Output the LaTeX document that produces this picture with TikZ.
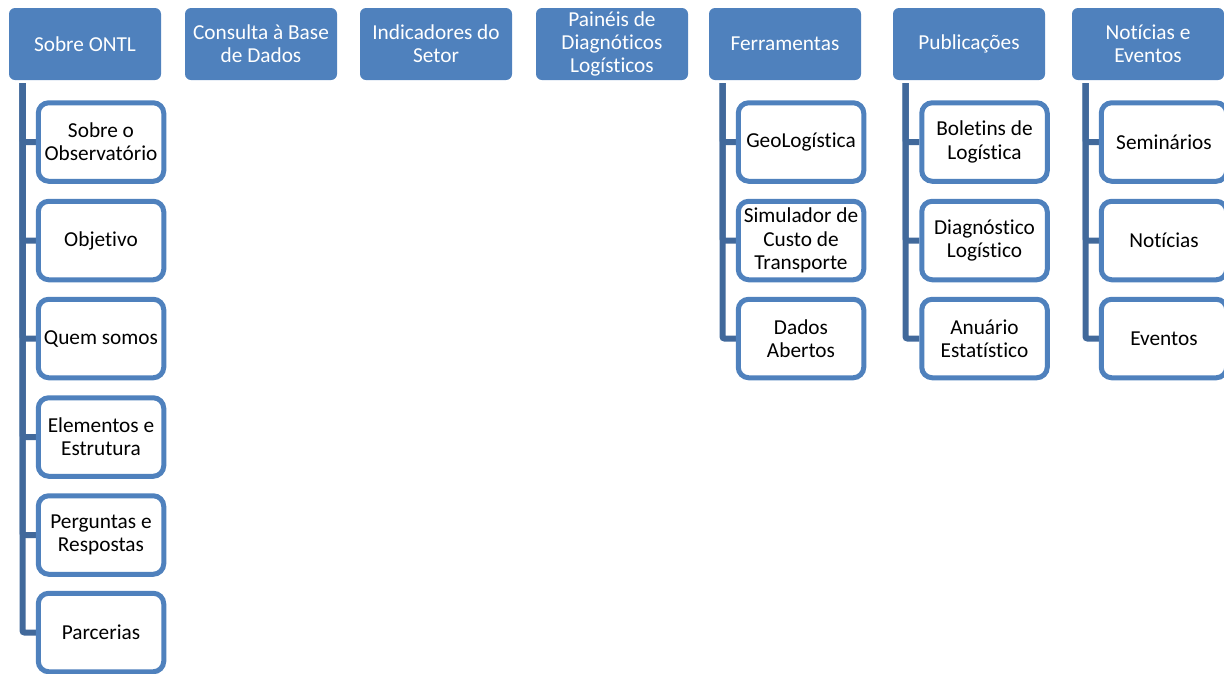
\documentclass[tikz,border=0pt]{standalone}
\usepackage{fontspec}
\setmainfont{Carlito}[Ligatures=NoCommon]
\usetikzlibrary{backgrounds}
\definecolor{hdrblue}{HTML}{4F81BD}
\definecolor{trunkblue}{HTML}{41699B}
\tikzset{
  x=1pt,y=-1pt,
  hdr/.style={fill=hdrblue,draw=none,rounded corners=6pt,minimum width=152pt,minimum height=72pt,inner sep=0pt,text=white,align=center,font=\fontsize{21.3pt}{23.2pt}\selectfont},
  item/.style={fill=white,draw=hdrblue,line width=5pt,rounded corners=10.5pt,minimum width=125.5pt,minimum height=78.5pt,inner sep=0pt,text=black,align=center,font=\fontsize{21.3pt}{23.2pt}\selectfont},
  link/.style={draw=trunkblue,line width=6pt,rounded corners=2pt},
}
\begin{document}
\begin{tikzpicture}
\useasboundingbox (0,0) rectangle (1224,673);
\clip (0,0) rectangle (1224,673);
\node[hdr] (h1) at (85,44) {Sobre ONTL};
\node[hdr] (h2) at (261,44) {Consulta à Base\\de Dados};
\node[hdr] (h3) at (436,44) {Indicadores do\\Setor};
\node[hdr] (h4) at (612,44) {Painéis de\\Diagnóticos\\Logísticos};
\node[hdr] (h5) at (785,44) {Ferramentas};
\node[hdr] (h6) at (969,44) {Publicações};
\node[hdr] (h7) at (1148,44) {Notícias e\\Eventos};
\node[item] (a1) at (101,142) {Sobre o\\Observatório};
\node[item] (a2) at (101,240.5) {Objetivo};
\node[item] (a3) at (101,338.5) {Quem somos};
\node[item] (a4) at (101,437) {Elementos e\\Estrutura};
\node[item] (a5) at (101,535) {Perguntas e\\Respostas};
\node[item] (a6) at (101,632.5) {Parcerias};
\node[item] (b1) at (801,142) {GeoLogística};
\node[item] (b2) at (801,240.5) {Simulador de\\Custo de\\Transporte};
\node[item] (b3) at (801,338.5) {Dados\\Abertos};
\node[item] (c1) at (984.5,142) {Boletins de\\Logística};
\node[item] (c2) at (984.5,240.5) {Diagnóstico\\Logístico};
\node[item] (c3) at (984.5,338.5) {Anuário\\Estatístico};
\node[item] (d1) at (1164,142) {Seminários};
\node[item] (d2) at (1164,240.5) {Notícias};
\node[item] (d3) at (1164,338.5) {Eventos};
\coordinate (t1) at (22.5,83);
\coordinate (t5) at (722.5,83);
\coordinate (t6) at (905.5,83);
\coordinate (t7) at (1085.5,83);
\begin{scope}[on background layer]
\foreach \k in {a1,a2,a3,a4,a5,a6} \draw[link] (t1) |- (\k.west);
\foreach \k in {b1,b2,b3} \draw[link] (t5) |- (\k.west);
\foreach \k in {c1,c2,c3} \draw[link] (t6) |- (\k.west);
\foreach \k in {d1,d2,d3} \draw[link] (t7) |- (\k.west);
\end{scope}
\end{tikzpicture}
\end{document}
